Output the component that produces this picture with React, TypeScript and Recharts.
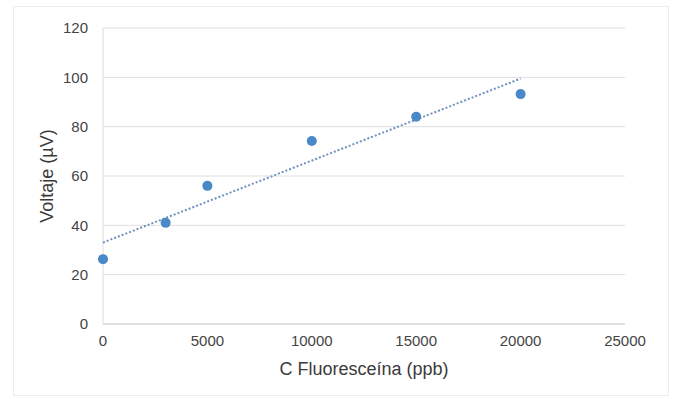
import { ScatterChart, Scatter, XAxis, YAxis, CartesianGrid } from 'recharts'

// concentraciones (ppb) y voltajes medidos (µV)
const concentracion = [0, 3000, 5000, 10000, 15000, 20000]
const voltaje = [26.3, 41, 56, 74.2, 84, 93.2]

// extremos de la línea de tendencia
const tendenciaX = [0, 20000]
const tendenciaY = [33, 99.5]

const xTicks = [0, 5000, 10000, 15000, 20000, 25000]
const yTicks = [0, 20, 40, 60, 80, 100, 120]

const puntos = concentracion.map((x, i) => ({ x, y: voltaje[i] }))
const tendencia = tendenciaX.map((x, i) => ({ x, y: tendenciaY[i] }))

const tickStyle = { fill: '#444', fontSize: 15, fontFamily: 'Liberation Sans, Arial, sans-serif' }

export default function App() {
  return (
    <div style={{ position: 'absolute', left: 0, top: 0, width: 677, height: 399, background: '#fff' }}>
      <div style={{ position: 'absolute', left: 13, top: 6, width: 654, height: 388, border: '1px solid #ececec' }} />
      <ScatterChart width={677} height={399} margin={{ top: 28, right: 52, bottom: 0, left: 0 }}>
        <CartesianGrid vertical={false} stroke="#dedede" />
        <XAxis
          type="number"
          dataKey="x"
          domain={[0, 25000]}
          ticks={xTicks}
          height={75}
          tickLine={false}
          tickSize={0}
          tickMargin={11}
          axisLine={{ stroke: '#cfcfcf' }}
          tick={tickStyle}
          label={{
            value: 'C Fluoresceína (ppb)',
            position: 'insideBottom',
            offset: 24,
            style: { fill: '#3a3a3a', fontSize: 18, fontFamily: 'Liberation Sans, Arial, sans-serif' }
          }}
        />
        <YAxis
          type="number"
          dataKey="y"
          domain={[0, 120]}
          ticks={yTicks}
          width={103}
          tickLine={false}
          tickSize={0}
          tickMargin={15}
          axisLine={{ stroke: '#dcdcdc' }}
          tick={tickStyle}
          label={{
            value: 'Voltaje (µV)',
            angle: -90,
            position: 'insideLeft',
            offset: 47,
            style: { textAnchor: 'middle', fill: '#3a3a3a', fontSize: 18, fontFamily: 'Liberation Sans, Arial, sans-serif' }
          }}
        />
        <Scatter
          data={tendencia}
          fill="#7090bd"
          line={{ strokeWidth: 2, strokeDasharray: '2 2' }}
          shape={() => <g />}
          isAnimationActive={false}
        />
        <Scatter
          data={puntos}
          fill="#4a89c8"
          shape={(p: any) => <circle cx={p.cx} cy={p.cy} r={5} fill="#4a89c8" />}
          isAnimationActive={false}
        />
      </ScatterChart>
    </div>
  )
}
